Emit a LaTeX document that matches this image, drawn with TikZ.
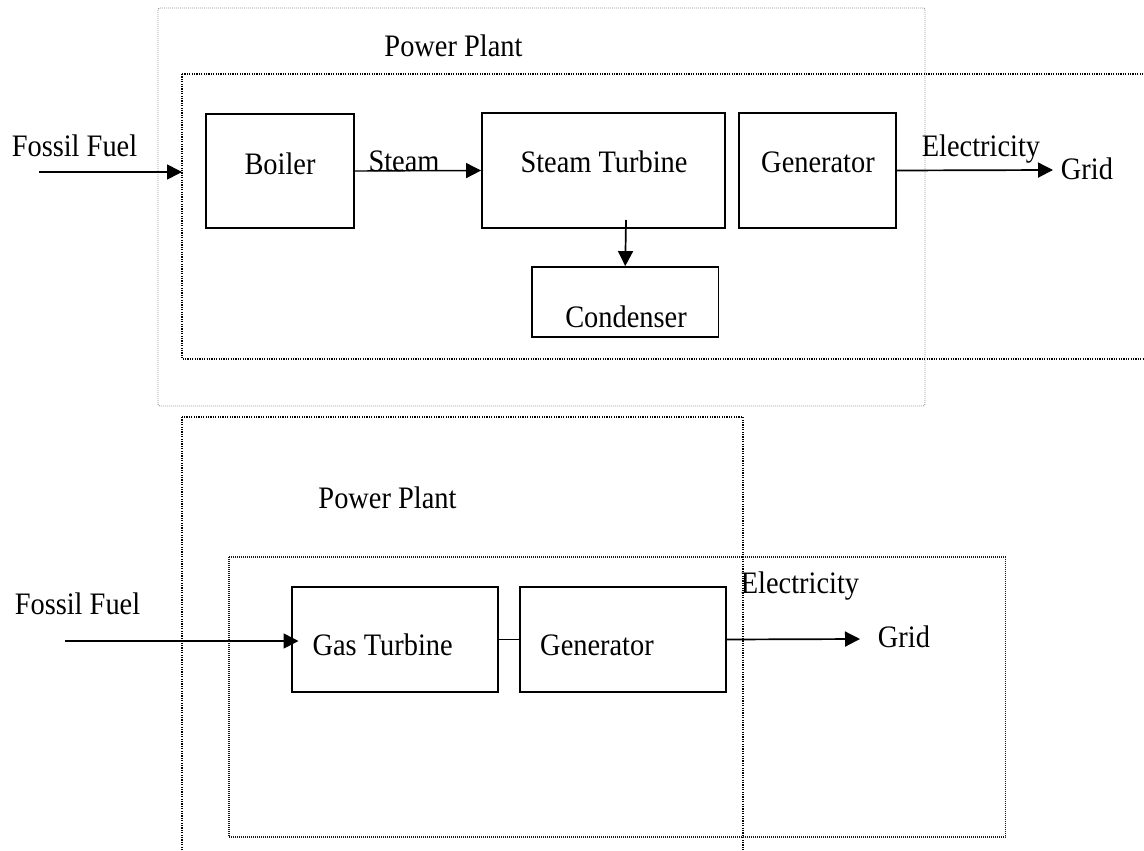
\documentclass[tikz,border=0pt]{standalone}
\usepackage{fontspec}
\setmainfont{Liberation Serif}
\usetikzlibrary{arrows.meta}
\newcommand{\tallt}[1]{\scalebox{1}[1.1]{#1}}
\begin{document}
\begin{tikzpicture}[x=0.5pt,y=-0.5pt,
  font=\fontsize{14.2pt}{16pt}\selectfont,
  box/.style={draw, line width=0.9pt, inner sep=0pt},
  txt/.style={anchor=base, inner sep=0pt},
  arr/.style={line width=0.85pt, -{Triangle[length=7.5pt,width=7.5pt]}},
  link/.style={line width=0.85pt},
  lightdot/.style={draw=gray!80, line width=0.45pt, dash pattern=on 0.5pt off 0.5pt},
  darkdot/.style={draw=black, line width=0.65pt, dash pattern=on 0.6pt off 0.6pt},
  thindot/.style={draw=black!90, line width=0.55pt, dash pattern=on 0.5pt off 0.5pt}]
\useasboundingbox (0,0) rectangle (1144,850);
\clip (0,0) rectangle (1144,850);
% ---------- top plant ----------
\draw[lightdot, rounded corners=1pt] (158,8) rectangle (925,406);
\draw[darkdot] (182,74) rectangle (1160,359);
\node[txt] (pp1) at (453.5,57) {\tallt{Power Plant}};
\node[txt] (ff1) at (74.5,157) {\tallt{Fossil Fuel}};
\coordinate (ff1s) at (39,172);
\coordinate (ff1e) at (182,172);
\draw[arr] (ff1s) -- (ff1e);
\node[box, minimum width=74pt, minimum height=57pt] (boiler) at (280,171) {};
\node[txt] (boilert) at (280,175) {\tallt{Boiler}};
\node[box, minimum width=121.5pt, minimum height=57.5pt] (st) at (603.5,170.5) {};
\node[txt] (stt) at (604,173) {\tallt{Steam Turbine}};
\node[box, minimum width=78.5pt, minimum height=57.5pt] (gen1) at (817.5,170.5) {};
\node[txt] (gen1t) at (818,173) {\tallt{Generator}};
\node[box, minimum width=93.25pt, minimum height=35pt] (cond) at (625.25,302) {};
\node[txt] (condt) at (626,327) {\tallt{Condenser}};
\draw[arr, line width=0.7pt] (boiler.east) -- (st.west);
\node[txt] (steam) at (404,172) {\tallt{Steam}};
\coordinate (stout) at (626,220);
\draw[arr] (stout) -- (cond.north);
\coordinate (grid1e) at (1053,170);
\draw[arr] (gen1.east) -- (grid1e);
\node[txt] (el1) at (981,157) {\tallt{Electricity}};
\node[txt] (grid1) at (1087,180) {\tallt{Grid}};
% ---------- bottom plant ----------
\draw[darkdot] (182,417) rectangle (743,880);
\draw[thindot] (229,557) rectangle (1005.5,837);
\node[txt] (pp2) at (387.5,508) {\tallt{Power Plant}};
\node[txt] (ff2) at (77.5,614) {\tallt{Fossil Fuel}};
\node[box, minimum width=103.2pt, minimum height=52.8pt] (gt) at (394.8,639.5) {};
\node[txt] (gtt) at (382.7,655) {\tallt{Gas Turbine}};
\node[box, minimum width=103pt, minimum height=52.8pt] (gen2) at (622.7,639.5) {};
\node[txt] (gen2t) at (597,655) {\tallt{Generator}};
\coordinate (ff2s) at (65,641);
\coordinate (ff2e) at (298.5,641);
\draw[arr] (ff2s) -- (ff2e);
\draw[link] (gt.east) -- (gen2.west);
\coordinate (grid2e) at (860,639);
\draw[arr] (gen2.east) -- (grid2e);
\node[txt] (el2) at (800,593) {\tallt{Electricity}};
\node[txt] (grid2) at (904,647) {\tallt{Grid}};
\end{tikzpicture}
\end{document}
